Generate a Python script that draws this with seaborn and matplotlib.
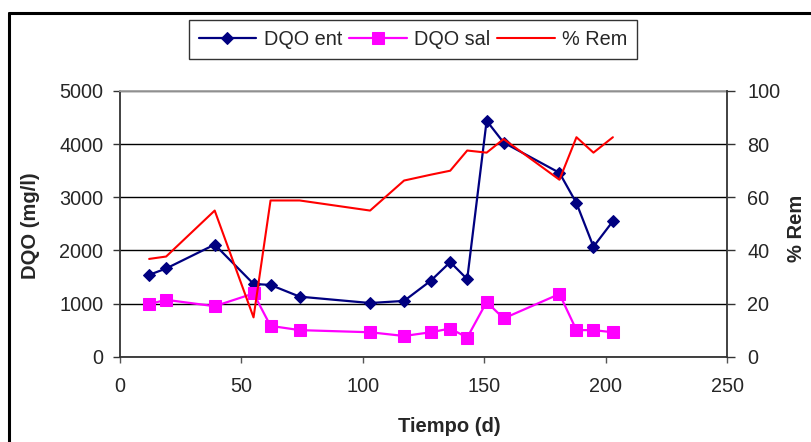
import numpy as np
import pandas as pd
import matplotlib
matplotlib.use("Agg")
import matplotlib.pyplot as plt
import seaborn as sns
from matplotlib.lines import Line2D

# ========= DATOS =========
tiempo = [12, 19, 39, 55, 62, 74, 103, 117, 128, 136, 143, 151, 158, 181, 188, 195, 203]
dqo_ent = [1540, 1660, 2110, 1370, 1350, 1130, 1010, 1050, 1430, 1780, 1460,
           4440, 4030, 3460, 2890, 2070, 2550]
dqo_sal = [990, 1070, 950, 1190, 580, 500, 460, 390, 460, 530, 360,
           1030, 720, 1180, 500, 500, 460]
rem = [36.8, 37.7, 55, 14.8, 58.8, 58.8, 55, 66.3, 68.5, 70, 77.6,
       76.8, 81.9, 66.6, 82.6, 76.8, 82.6]

x_ticks = [0, 50, 100, 150, 200, 250]
y_ticks = [0, 1000, 2000, 3000, 4000, 5000]
y2_ticks = [0, 20, 40, 60, 80, 100]

df = pd.DataFrame({"t": tiempo, "ent": dqo_ent, "sal": dqo_sal, "rem": rem})

# ========= ESTILO =========
sns.set_style("white")
plt.rcParams["font.family"] = ["Liberation Sans", "DejaVu Sans"]
FS = 14.3

fig = plt.figure(figsize=(8.11, 4.42), dpi=100)
ax = fig.add_axes([120 / 811, 1 - 356.7 / 442, 607 / 811, 265.7 / 442])
ax2 = ax.twinx()

# ========= SERIES =========
sns.lineplot(data=df, x="t", y="ent", ax=ax, sort=False, color="#000080",
             lw=1.6, marker="D", markersize=6.5, markeredgecolor="#000080",
             label="DQO ent", legend=False)
sns.lineplot(data=df, x="t", y="sal", ax=ax, sort=False, color="#FF00FF",
             lw=1.6, marker="s", markersize=8, markeredgecolor="#FF00FF",
             label="DQO sal", legend=False)
sns.lineplot(data=df, x="t", y="rem", ax=ax2, sort=False, color="#FF0000",
             lw=1.5, label="% Rem", legend=False)

# ========= EJES =========
ax.set_xlim(0, 250)
ax.set_ylim(0, 5000)
ax2.set_ylim(0, 100)
ax.set_xticks(x_ticks)
ax.set_yticks(y_ticks)
ax2.set_yticks(y2_ticks)
ax.set_xlabel("")
ax.set_ylabel("")
ax2.set_ylabel("")

ax.yaxis.grid(True, color="black", lw=1)
ax.xaxis.grid(False)

for s in ["left", "bottom"]:
    ax.spines[s].set_color("#333333")
    ax.spines[s].set_linewidth(1.3)
ax.spines["top"].set_color("#a0a0a0")
ax.spines["top"].set_linewidth(1.3)
ax.spines["right"].set_visible(False)
for s in ["left", "top", "bottom"]:
    ax2.spines[s].set_visible(False)
ax2.spines["right"].set_color("#333333")
ax2.spines["right"].set_linewidth(1.3)

ax.tick_params(axis="y", direction="out", length=5, width=1, pad=7,
               labelsize=FS, left=True, color="#333333")
ax.tick_params(axis="x", direction="out", length=4.5, width=1, pad=10,
               labelsize=FS, bottom=True, color="#555555")
ax2.tick_params(axis="y", direction="out", length=5.5, width=1, pad=9,
                labelsize=FS, right=True, color="#333333")

# ========= TEXTOS =========
fig.text(449 / 811, 1 - 426 / 442, "Tiempo (d)", fontsize=14.5,
         fontweight="bold", ha="center", va="center")
fig.text(30 / 811, 1 - 226 / 442, "DQO (mg/l)", fontsize=14.5,
         fontweight="bold", ha="center", va="center", rotation=90)
fig.text(797 / 811, 1 - 228 / 442, "% Rem", fontsize=14.5,
         fontweight="bold", ha="center", va="center", rotation=90)

# ========= LEYENDA =========
h1, l1 = ax.get_legend_handles_labels()
h2, l2 = ax2.get_legend_handles_labels()
leg = fig.legend(h1 + h2, l1 + l2, loc="center",
                 bbox_to_anchor=(413 / 811, 1 - 39.5 / 442), ncol=3,
                 fontsize=FS, frameon=True, fancybox=False, shadow=False,
                 handlelength=2.9, handletextpad=0.37, columnspacing=0.35,
                 borderpad=0.5, borderaxespad=0)
leg.get_frame().set_edgecolor("black")
leg.get_frame().set_linewidth(1)

# ========= MARCO =========
fig.add_artist(Line2D([9 / 811, 1], [1 - 13 / 442, 1 - 13 / 442],
                      transform=fig.transFigure, color="black", lw=2.2))
fig.add_artist(Line2D([9 / 811, 9 / 811], [0, 1 - 13 / 442],
                      transform=fig.transFigure, color="black", lw=2.2))

plt.savefig("out.png", dpi=100)
plt.close()
